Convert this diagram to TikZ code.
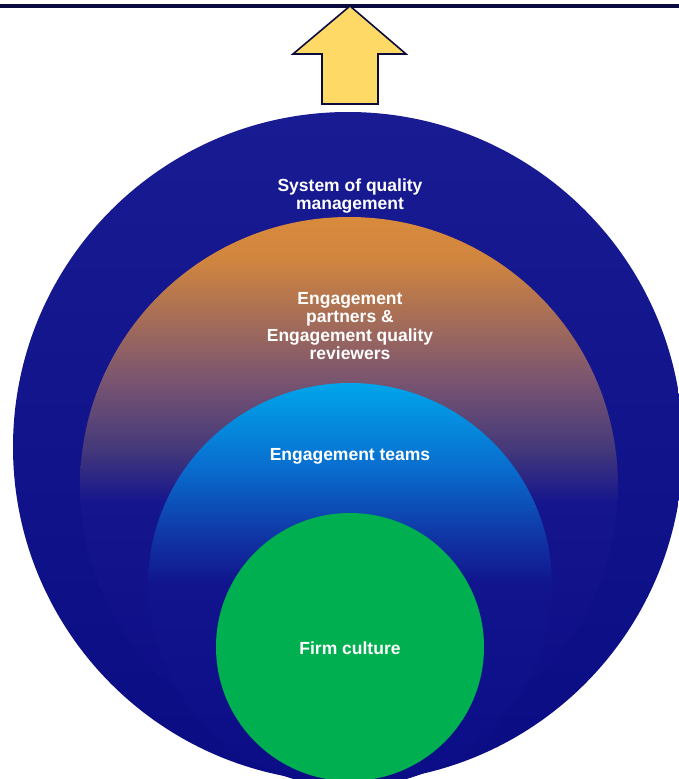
\documentclass[tikz,border=0pt]{standalone}
\usepackage{fontspec}
\setmainfont{Liberation Sans}
\definecolor{navyline}{HTML}{0B0B3F}
\definecolor{arrowfill}{HTML}{FFD966}
\definecolor{culture}{HTML}{00B050}
\definecolor{sysTop}{RGB}{24,27,146}
\definecolor{sysBot}{RGB}{10,12,132}
\definecolor{ptOrange}{RGB}{217,139,60}
\definecolor{ptOrangeB}{RGB}{208,133,63}
\definecolor{ptMauve}{RGB}{123,85,112}
\definecolor{ptPurple}{RGB}{69,57,122}
\definecolor{ptNavy}{RGB}{21,21,141}
\definecolor{ptBot}{RGB}{11,13,134}
\definecolor{tmTop}{RGB}{0,165,234}
\definecolor{tmMid}{RGB}{8,112,208}
\definecolor{tmLow}{RGB}{16,53,165}
\definecolor{tmNavy}{RGB}{17,20,140}
\definecolor{tmBot}{RGB}{11,13,134}
% vertical shadings: the path's bounding box spans 25bp (bottom) to 75bp (top)
\pgfdeclareverticalshading{systemshade}{100bp}{
  color(0bp)=(sysBot); color(25bp)=(sysBot);
  color(75bp)=(sysTop); color(100bp)=(sysTop)}
\pgfdeclareverticalshading{partnershade}{100bp}{
  color(0bp)=(ptBot); color(25bp)=(ptBot);
  color(48.5bp)=(ptNavy); color(53.5bp)=(ptPurple);
  color(60bp)=(ptMauve); color(71bp)=(ptOrangeB);
  color(75bp)=(ptOrange); color(100bp)=(ptOrange)}
\pgfdeclareverticalshading{teamshade}{100bp}{
  color(0bp)=(tmBot); color(25bp)=(tmBot);
  color(50bp)=(tmNavy); color(56bp)=(tmLow);
  color(65bp)=(tmMid); color(75bp)=(tmTop); color(100bp)=(tmTop)}
\begin{document}
\begin{tikzpicture}[x=1pt,y=-1pt,
  ring/.style={circle,inner sep=0pt,draw=none},
  label/.style={text=white,font=\bfseries\fontsize{17.5}{18.3}\selectfont,align=center,inner sep=0pt}]
\useasboundingbox (0,0) rectangle (679,779);
\fill[white] (0,0) rectangle (679,779);

% nested circles
\node[ring,minimum size=670pt,shading=systemshade] (system) at (348,447) {};
\node[ring,minimum size=538pt,shading=partnershade] (partners) at (349,486) {};
\node[ring,minimum size=404pt,shading=teamshade] (teams) at (350,585) {};
\node[ring,minimum size=268pt,fill=culture] (culture) at (350,647) {};

% labels
\node[label] (tsystem) at (350,196) {System of quality\\management};
\node[label] (tpartners) at (350,326) {Engagement\\partners \&\\Engagement quality\\reviewers};
\node[label] (tteams) at (350,456) {Engagement teams};
\node[label] (tculture) at (350,648) {Firm culture};

% top rule and upward arrow
\coordinate (ruleL) at (0,6);
\coordinate (ruleR) at (679,6);
\draw[navyline,line width=4.3pt] (ruleL) -- (ruleR);
\draw[navyline,line width=1.6pt,fill=arrowfill,line join=miter]
  (350,6) -- (406,54) -- (378,54) -- (378,104) -- (322,104) -- (322,54) -- (293,54) -- cycle;
\end{tikzpicture}
\end{document}
